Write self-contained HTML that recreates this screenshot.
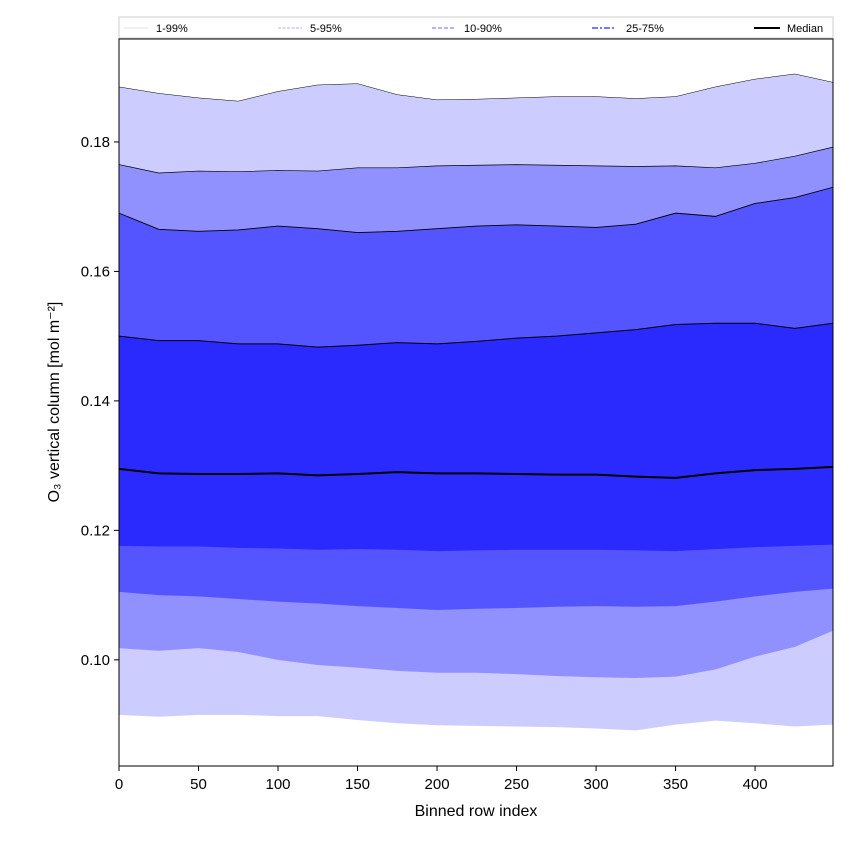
<!DOCTYPE html>
<html><head><meta charset="utf-8"><style>
html,body{margin:0;padding:0;background:#fff;}
svg{display:block;font-family:"Liberation Sans","DejaVu Sans",sans-serif;}
</style></head><body>
<svg id="chart" width="850" height="850" xmlns="http://www.w3.org/2000/svg">
  <g id="bands"></g>
  <g id="lines"></g>
  <rect x="119" y="39" width="714" height="727" fill="none" stroke="#000" stroke-width="1"/>
  <g id="xticks"></g>
  <g id="yticks"></g>
  <text x="476" y="816" font-size="16" text-anchor="middle">Binned row index</text>
  <text transform="translate(59,402) rotate(-90)" font-size="16" text-anchor="middle">O₃ vertical column [mol m⁻²]</text>
  <g>
    <rect x="119" y="17" width="714" height="21" fill="#fff" stroke="#ccc"/>
    <line x1="124" y1="28" x2="148" y2="28" stroke="#ddddff" stroke-width="1"/>
    <text x="156" y="32" font-size="11">1-99%</text>
    <line x1="278" y1="28" x2="302" y2="28" stroke="#b0b0ff" stroke-width="1" stroke-dasharray="3,1.5"/>
    <text x="310" y="32" font-size="11">5-95%</text>
    <line x1="432" y1="28" x2="456" y2="28" stroke="#8888ff" stroke-width="1.3" stroke-dasharray="4,2"/>
    <text x="464" y="32" font-size="11">10-90%</text>
    <line x1="592" y1="28" x2="616" y2="28" stroke="#6666ff" stroke-width="1.8" stroke-dasharray="6,2,2,2"/>
    <text x="626" y="32" font-size="11">25-75%</text>
    <line x1="754" y1="28" x2="780" y2="28" stroke="#000" stroke-width="2"/>
    <text x="787" y="32" font-size="11">Median</text>
  </g>
</svg>
<script>
const xs = [0,25,50,75,100,125,150,175,200,225,250,275,300,325,350,375,400,425,449];
const p99 = [0.1885,0.1875,0.1868,0.1863,0.1878,0.1888,0.1890,0.1873,0.1865,0.1866,0.1868,0.1870,0.1870,0.1867,0.1870,0.1885,0.1897,0.1905,0.1892];
const p95 = [0.1765,0.1752,0.1755,0.1754,0.1756,0.1755,0.1760,0.1760,0.1763,0.1764,0.1765,0.1764,0.1763,0.1762,0.1763,0.1760,0.1767,0.1778,0.1792];
const p90 = [0.1690,0.1665,0.1662,0.1664,0.1670,0.1666,0.1660,0.1662,0.1666,0.1670,0.1672,0.1670,0.1668,0.1673,0.1690,0.1685,0.1705,0.1714,0.1730];
const p75 = [0.1500,0.1493,0.1493,0.1488,0.1488,0.1483,0.1486,0.1490,0.1488,0.1492,0.1497,0.1500,0.1505,0.1510,0.1518,0.1520,0.1520,0.1512,0.1520];
const p50 = [0.1295,0.1288,0.1287,0.1287,0.1288,0.1285,0.1287,0.1290,0.1288,0.1288,0.1287,0.1286,0.1286,0.1283,0.1281,0.1288,0.1293,0.1295,0.1298];
const p25 = [0.1176,0.1175,0.1175,0.1173,0.1172,0.1170,0.1171,0.1170,0.1168,0.1169,0.1170,0.1170,0.1170,0.1169,0.1168,0.1171,0.1174,0.1176,0.1178];
const p10 = [0.1105,0.1100,0.1098,0.1094,0.1090,0.1087,0.1083,0.1080,0.1077,0.1079,0.1080,0.1082,0.1083,0.1082,0.1083,0.1090,0.1098,0.1105,0.1110];
const p5 = [0.1018,0.1014,0.1018,0.1012,0.1000,0.0992,0.0988,0.0983,0.0980,0.0980,0.0978,0.0975,0.0973,0.0972,0.0974,0.0985,0.1005,0.1020,0.1045];
const p1 = [0.0915,0.0912,0.0915,0.0915,0.0913,0.0913,0.0907,0.0902,0.0899,0.0898,0.0897,0.0896,0.0894,0.0891,0.0900,0.0906,0.0902,0.0897,0.0900];
const xTicks = [0,50,100,150,200,250,300,350,400];
const yTicks = [0.10,0.12,0.14,0.16,0.18];

const NS = "http://www.w3.org/2000/svg";
const X0=119, X1=833, Y0=39, Y1=766, XMAX=449;
const YMIN=0.0836, YMAX=0.1959;
function sx(v){return X0+(v/XMAX)*(X1-X0);}
function sy(v){return Y1-(v-YMIN)/(YMAX-YMIN)*(Y1-Y0);}
function pts(arr){return arr.map((v,i)=>sx(xs[i]).toFixed(2)+","+sy(v).toFixed(2));}

const bands=document.getElementById('bands');
function band(lo,hi,color,name){
  const p=document.createElementNS(NS,'polygon');
  p.setAttribute('points',pts(hi).concat(pts(lo).reverse()).join(' '));
  p.setAttribute('fill',color);
  
  
  bands.appendChild(p);
}
band(p1,p99,'#ccccff','band-1-99');
band(p5,p95,'#9090ff','band-5-95');
band(p10,p90,'#5555ff','band-10-90');
band(p25,p75,'#2a2aff','band-25-75');

const lines=document.getElementById('lines');
function line(arr,w,name){
  const p=document.createElementNS(NS,'polyline');
  p.setAttribute('points',pts(arr).join(' '));
  p.setAttribute('fill','none');
  p.setAttribute('stroke','#000');
  p.setAttribute('stroke-width',w);
  
  
  lines.appendChild(p);
}
line(p99,0.5,'line-p99');line(p95,0.7,'line-p95');line(p90,0.9,'line-p90');line(p75,1,'line-p75');line(p50,2,'line-median');

const xt=document.getElementById('xticks');
xTicks.forEach(v=>{
  const l=document.createElementNS(NS,'line');
  l.setAttribute('x1',sx(v));l.setAttribute('x2',sx(v));l.setAttribute('y1',Y1);l.setAttribute('y2',Y1+5);l.setAttribute('stroke','#000');
  
  
  xt.appendChild(l);
  const t=document.createElementNS(NS,'text');
  t.setAttribute('x',sx(v));t.setAttribute('y',Y1+23);t.setAttribute('font-size','15');t.setAttribute('text-anchor','middle');
  t.textContent=v;
  
  
  xt.appendChild(t);
});
const yt=document.getElementById('yticks');
yTicks.forEach(v=>{
  const l=document.createElementNS(NS,'line');
  l.setAttribute('x1',X0-5);l.setAttribute('x2',X0);l.setAttribute('y1',sy(v));l.setAttribute('y2',sy(v));l.setAttribute('stroke','#000');
  
  
  yt.appendChild(l);
  const t=document.createElementNS(NS,'text');
  t.setAttribute('x',X0-9);t.setAttribute('y',sy(v)+5);t.setAttribute('font-size','15');t.setAttribute('text-anchor','end');
  t.textContent=v.toFixed(2);
  
  
  yt.appendChild(t);
});
</script>
</body></html>
